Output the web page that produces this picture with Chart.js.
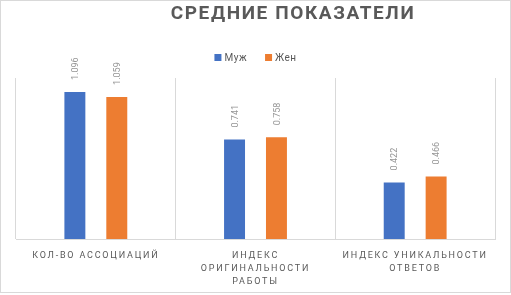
<!DOCTYPE html>
<html>
<head>
<meta charset="utf-8">
<script src="https://cdn.jsdelivr.net/npm/chart.js@4/dist/chart.umd.min.js"></script>
<style>
  html, body { margin: 0; padding: 0; background: #fff; }
  #wrap { width: 511px; height: 295px; position: relative; }
</style>
</head>
<body>
<div id="wrap"><canvas id="chart"></canvas></div>
<script>
const chartTitle = 'СРЕДНИЕ ПОКАЗАТЕЛИ'
const categories = [
  ['КОЛ-ВО АССОЦИАЦИЙ'],
  ['ИНДЕКС', 'ОРИГИНАЛЬНОСТИ', 'РАБОТЫ'],
  ['ИНДЕКС УНИКАЛЬНОСТИ', 'ОТВЕТОВ'],
]
const seriesNames = ['Муж', 'Жен']
const menValues = [1.096, 0.741, 0.422]
const womenValues = [1.059, 0.758, 0.466]

const FONT = 'Roboto, "Noto Sans", sans-serif'
const textGray = '#595959'

// рамка, заголовок, легенда, подписи категорий и значения
const decorations = {
  id: 'decorations',
  afterDraw(chart) {
    const ctx = chart.ctx
    const x = chart.scales.x

    ctx.save()
    ctx.strokeStyle = '#d9d9d9'
    ctx.lineWidth = 1
    ctx.strokeRect(0.5, 0.5, chart.width - 1, chart.height - 3)

    ctx.fillStyle = textGray
    ctx.textAlign = 'center'
    ctx.textBaseline = 'middle'
    ctx.font = 'bold 19px ' + FONT
    ctx.letterSpacing = '1.6px'
    ctx.fillText(chartTitle, 293, 14)

    // легенда
    ctx.letterSpacing = '0.5px'
    ctx.font = '10px ' + FONT
    ctx.textAlign = 'left'
    const items = chart.data.datasets.map((ds) => ({
      text: ds.label,
      color: ds.backgroundColor,
      w: 7 + 3 + ctx.measureText(ds.label).width,
    }))
    const gap = 18
    const total = items.reduce((s, it) => s + it.w, 0) + gap * (items.length - 1)
    let lx = (chart.chartArea.left + chart.chartArea.right) / 2 - total / 2
    items.forEach((it) => {
      ctx.fillStyle = it.color
      ctx.fillRect(lx, 54, 7, 7)
      ctx.fillStyle = textGray
      ctx.fillText(it.text, lx + 10, 58)
      lx += it.w + gap
    })

    ctx.textAlign = 'center'
    ctx.font = '9px ' + FONT
    ctx.letterSpacing = '1.8px'
    categories.forEach((lines, i) => {
      const cx = x.getPixelForValue(i)
      lines.forEach((line, j) => {
        ctx.fillText(line, cx, chart.chartArea.bottom + 17 + j * 13)
      })
    })

    ctx.letterSpacing = '0px'
    ctx.font = '9px ' + FONT
    ctx.fillStyle = '#959595'
    chart.data.datasets.forEach((ds, di) => {
      chart.getDatasetMeta(di).data.forEach((bar, i) => {
        ctx.save()
        ctx.translate(bar.x + 1, bar.y - 12)
        ctx.rotate(-Math.PI / 2)
        ctx.textAlign = 'left'
        ctx.fillText(ds.data[i].toFixed(3), 0, 0)
        ctx.restore()
      })
    })
    ctx.restore()
  },
}

new Chart(document.getElementById('chart'), {
  type: 'bar',
  data: {
    labels: categories.map((c) => c.join(' ')),
    datasets: [
      {
        label: seriesNames[0],
        data: menValues,
        backgroundColor: '#4472C4',
        categoryPercentage: 0.525,
        barPercentage: 0.5,
      },
      {
        label: seriesNames[1],
        data: womenValues,
        backgroundColor: '#ED7D31',
        categoryPercentage: 0.525,
        barPercentage: 0.5,
      },
    ],
  },
  options: {
    responsive: true,
    maintainAspectRatio: false,
    animation: false,
    devicePixelRatio: 1,
    layout: { padding: { top: 78, left: 16, right: 16, bottom: 56 } },
    scales: {
      x: {
        ticks: { display: false },
        grid: { color: '#d9d9d9', drawTicks: false, offset: true },
        border: { color: '#d9d9d9' },
      },
      y: {
        display: false,
        min: 0,
        max: 1.2,
      },
    },
    plugins: {
      title: { display: false },
      tooltip: { enabled: false },
      legend: { display: false },
    },
  },
  plugins: [decorations],
})
</script>
</body>
</html>
